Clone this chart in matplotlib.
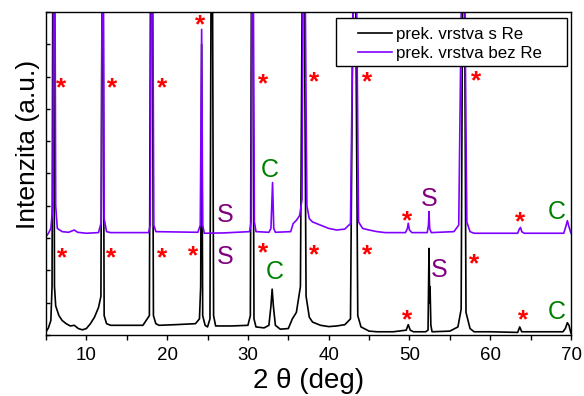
import matplotlib
matplotlib.use("Agg")
import matplotlib.pyplot as plt
from matplotlib.ticker import MultipleLocator, NullFormatter
from matplotlib.legend_handler import HandlerLine2D
from matplotlib.patches import Rectangle

plt.rcParams['font.family'] = ['Liberation Sans', 'DejaVu Sans']

# ---- data (2theta in deg, intensity in arbitrary units; peaks above 10 are clipped) ----
black_x = [5.0, 5.3, 5.6, 5.75, 5.85, 5.95, 6.05, 6.2, 6.6, 7.0, 7.5, 8.0, 8.5, 9.0, 9.5, 10.0,
           10.5, 11.0, 11.5, 11.8, 11.95, 12.05, 12.2, 12.5, 13.0, 15.0, 17.0, 17.8, 17.95, 18.05,
           18.15, 18.3, 18.6, 19.0, 21.0, 23.5, 24.0, 24.15, 24.27, 24.4, 24.7, 25.0, 25.3, 25.45,
           25.6, 25.75, 26.0, 28.0, 30.0, 30.3, 30.45, 30.6, 30.75, 31.0, 32.0, 32.6, 32.85, 33.0,
           33.15, 33.4, 34.0, 35.0, 35.5, 36.0, 36.5, 36.75, 36.95, 37.2, 37.6, 38.0, 39.0, 40.0,
           41.0, 42.0, 42.7, 43.05, 43.3, 43.6, 44.0, 45.0, 46.0, 48.0, 49.6, 49.85, 50.1, 50.5,
           52.0, 52.3, 52.42, 52.5, 52.55, 52.65, 52.8, 55.0, 56.0, 56.4, 56.6, 56.8, 57.0, 57.5,
           58.0, 60.0, 63.4, 63.65, 63.9, 66.0, 69.0, 69.3, 69.55, 69.75, 70.0]
black_y = [0.10, 0.22, 0.45, 1.5, 12.0, 12.0, 1.5, 0.9, 0.6, 0.45, 0.35, 0.28, 0.30, 0.20, 0.16, 0.20,
           0.35, 0.55, 0.85, 1.2, 12.0, 12.0, 0.6, 0.35, 0.30, 0.30, 0.30, 0.6, 12.0, 12.0,
           12.0, 0.6, 0.35, 0.30, 0.32, 0.35, 0.5, 1.5, 9.0, 0.6, 0.30, 0.25, 0.5, 12.0,
           12.0, 0.6, 0.28, 0.28, 0.30, 0.6, 12.0, 12.0, 0.5, 0.25, 0.22, 0.30, 0.9, 1.42,
           0.9, 0.30, 0.18, 0.20, 0.5, 0.7, 1.5, 12.0, 12.0, 1.2, 0.55, 0.40, 0.30, 0.26,
           0.28, 0.32, 0.5, 12.0, 12.0, 0.6, 0.25, 0.12, 0.10, 0.10, 0.15, 0.32, 0.15, 0.10,
           0.10, 0.15, 2.68, 1.0, 1.5, 0.30, 0.10, 0.12, 0.25, 0.8, 12.0, 12.0, 0.7, 0.20,
           0.10, 0.10, 0.08, 0.25, 0.10, 0.10, 0.10, 0.20, 0.38, 0.30, 0.05]

purple_x = [5.0, 5.3, 5.6, 5.85, 5.95, 6.1, 6.2, 6.4, 7.0, 7.8, 8.2, 8.5, 8.9, 10.0, 11.5, 11.85,
            11.95, 12.1, 12.2, 12.5, 13.0, 17.7, 17.9, 18.05, 18.2, 18.35, 18.6, 23.8, 24.1, 24.27,
            24.4, 24.6, 27.0, 30.2, 30.4, 30.5, 30.65, 30.8, 31.0, 32.6, 32.85, 33.05, 33.2, 33.4,
            35.3, 35.6, 36.0, 36.4, 36.7, 36.85, 37.05, 37.3, 37.6, 38.0, 39.0, 40.0, 41.0, 42.0,
            42.7, 43.1, 43.4, 43.7, 44.2, 45.0, 46.0, 47.0, 49.5, 49.75, 49.85, 50.0, 50.3, 52.2,
            52.35, 52.42, 52.5, 52.7, 55.5, 56.1, 56.5, 56.8, 57.1, 57.5, 58.0, 63.4, 63.6, 63.75,
            63.9, 64.2, 69.1, 69.35, 69.55, 69.75, 70.0]
purple_y = [3.04, 3.15, 3.30, 4.0, 12.0, 12.0, 4.0, 3.30, 3.20, 3.18, 3.22, 3.25, 3.18, 3.15, 3.17, 3.5,
            12.0, 12.0, 3.6, 3.20, 3.17, 3.17, 3.4, 12.0, 12.0, 3.4, 3.20, 3.18, 3.4, 9.46,
            3.4, 3.15, 3.16, 3.20, 3.5, 12.0, 12.0, 3.5, 3.20, 3.18, 3.30, 4.72, 3.30, 3.18,
            3.20, 3.45, 3.55, 3.70, 4.2, 12.0, 12.0, 4.0, 3.60, 3.50, 3.40, 3.30, 3.25, 3.28,
            3.45, 12.0, 12.0, 3.5, 3.30, 3.25, 3.20, 3.17, 3.17, 3.30, 3.46, 3.25, 3.17, 3.17,
            3.4, 3.82, 3.30, 3.17, 3.20, 3.4, 12.0, 12.0, 3.5, 3.20, 3.15, 3.15, 3.28, 3.33,
            3.20, 3.15, 3.15, 3.35, 3.54, 3.35, 3.15]

series_labels = ["prek. vrstva s Re", "prek. vrstva bez Re"]

star_x = [6.92, 13.17, 19.42, 24.12, 31.86, 38.17, 44.79, 58.22, 49.68, 63.66,
          6.98, 13.04, 19.36, 23.23, 31.82, 38.17, 44.81, 58.01, 49.72, 64.07]
star_y = [7.64, 7.64, 7.64, 9.59, 7.76, 7.81, 7.83, 7.86, 3.52, 3.49,
          2.36, 2.36, 2.36, 2.43, 2.53, 2.48, 2.46, 2.19, 0.44, 0.47]

c_x = [32.72, 33.34, 68.2, 68.2]
c_y = [5.11, 1.96, 3.82, 0.72]

s_x = [27.15, 27.15, 52.44, 53.68]
s_y = [3.72, 2.42, 4.20, 2.01]


class RightHandler(HandlerLine2D):
    """Draw the legend line across the full handle box."""
    def get_xdata(self, legend, xdescent, ydescent, width, height, fontsize):
        xd, xm = super().get_xdata(legend, xdescent, ydescent, width, height, fontsize)
        return [-xdescent, -xdescent + width], xm


# ---- figure ----
fig = plt.figure(figsize=(5.84, 3.96), dpi=100)
ax = fig.add_axes([46 / 584, 61 / 396, 525 / 584, 323 / 396])

ax.plot(black_x, black_y, color="black", lw=1.2, label=series_labels[0])
ax.plot(purple_x, purple_y, color="#8000FF", lw=1.2, label=series_labels[1])

for x, y in zip(star_x, star_y):
    ax.text(x, y, "*", color="red", fontsize=19, ha="center", va="center", fontweight="bold")
for x, y in zip(c_x, c_y):
    ax.text(x, y, "C", color="#008000", fontsize=18, ha="center", va="center")
for x, y in zip(s_x, s_y):
    ax.text(x, y, "S", color="#800080", fontsize=18, ha="center", va="center")

ax.set_xlim(5, 70)
ax.set_ylim(0, 10)
ax.xaxis.set_major_locator(MultipleLocator(10))
ax.xaxis.set_minor_locator(MultipleLocator(5))
ax.yaxis.set_major_locator(MultipleLocator(1))
ax.yaxis.set_major_formatter(NullFormatter())
ax.tick_params(axis="x", which="both", direction="out", length=3.5, width=1, labelsize=13.5, pad=5)
ax.tick_params(axis="y", which="both", direction="in", length=3, width=1)
for sp in ax.spines.values():
    sp.set_linewidth(1.0)

ax.set_xlabel("2 θ (deg)", fontsize=20, labelpad=3)
ax.set_ylabel("Intenzita (a.u.)", fontsize=19)
ax.yaxis.set_label_coords(-0.012, 0.59)

# legend frame box (axes fraction) and frameless legend inside it
frame = Rectangle((0.552, 0.833), 0.441, 0.147, transform=ax.transAxes, facecolor="white",
                  edgecolor="black", lw=1.0, zorder=4.5)
ax.add_patch(frame)
leg = ax.legend(loc="upper left", bbox_to_anchor=(0.594, 0.953), fontsize=12.2,
                frameon=False, handlelength=2.0, handletextpad=0.28, borderpad=0.0,
                labelspacing=0.25, borderaxespad=0,
                handler_map={plt.Line2D: RightHandler()})
leg.set_zorder(5)

fig.savefig("out.png", dpi=100)
